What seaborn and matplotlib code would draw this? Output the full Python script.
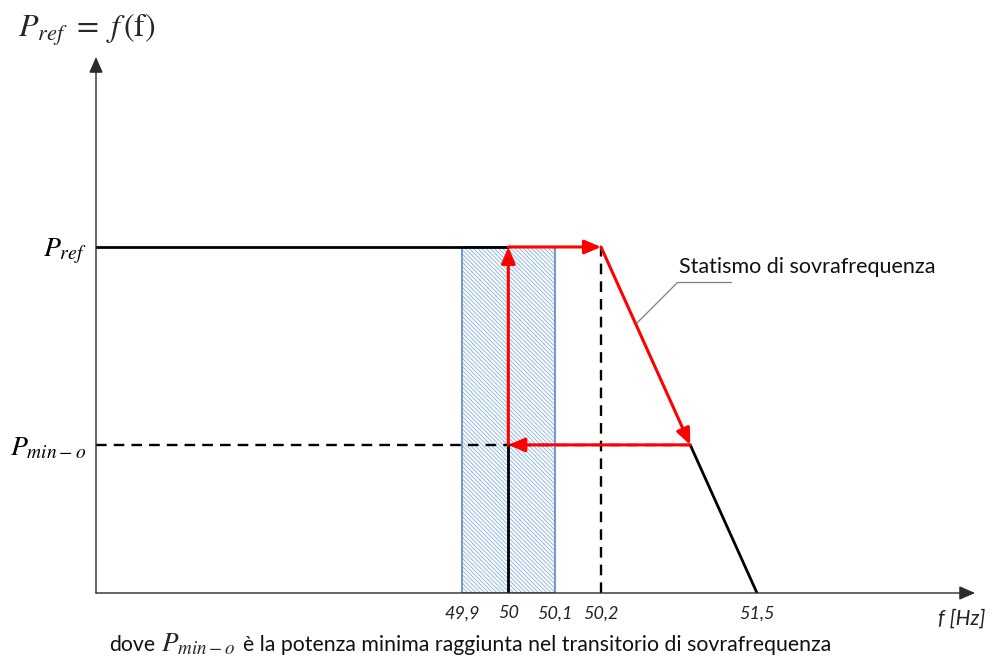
import numpy as np
import matplotlib
matplotlib.use("Agg")
import matplotlib.pyplot as plt
import seaborn as sns

# --- values of the over-frequency droop characteristic ---
P_REF = 1.0            # reference active power (per unit)
P_MIN = 0.428          # minimum power reached during the transient (per unit)
F_BAND_LOW = 49.9      # lower edge of the dead band [Hz]
F_NOM = 50.0           # nominal frequency [Hz]
F_BAND_HIGH = 50.1     # upper edge of the dead band [Hz]
F_DROOP_START = 50.2   # droop activation threshold [Hz]
F_DROOP_END = 51.5     # frequency at which power reaches zero [Hz]

tick_freqs = [49.9, 50.0, 50.1, 50.2, 51.5]
tick_labels = ["49,9", "50", "50,1", "50,2", "51,5"]

# frequency where the droop line reaches P_MIN
f_pmin = F_DROOP_START + (P_REF - P_MIN) / P_REF * (F_DROOP_END - F_DROOP_START)

# piecewise-linear (not to scale) frequency axis
FREQ_KNOTS = [49.0, 49.9, 50.2, 51.5, 53.3]
POS_KNOTS = [0.0, 366.0, 505.0, 661.0, 879.0]


def fwd(f):
    return np.interp(f, FREQ_KNOTS, POS_KNOTS)


def inv(p):
    return np.interp(p, POS_KNOTS, FREQ_KNOTS)


sns.set_theme(style="white")
plt.rcParams["font.family"] = ["Lato", "DejaVu Sans"]
plt.rcParams["mathtext.fontset"] = "stix"
plt.rcParams["hatch.linewidth"] = 0.8

W, H = 997, 659
fig = plt.figure(figsize=(W / 100, H / 100), dpi=100)
ax = fig.add_axes([96 / W, (H - 593) / H, 879 / W, (593 - 57) / H])
ax.set_xscale("function", functions=(fwd, inv))
ax.set_xlim(FREQ_KNOTS[0], FREQ_KNOTS[-1])
ax.set_ylim(0, 1.549)
for s in ax.spines.values():
    s.set_visible(False)

# dead band (hatched)
ax.fill_between([F_BAND_LOW, F_BAND_HIGH], 0, P_REF, facecolor="none",
                edgecolor="#9cc0e6", hatch="\\" * 8, linewidth=0, zorder=1)
ax.fill_between([F_BAND_LOW, F_BAND_HIGH], 0, P_REF, facecolor="none",
                edgecolor="#5f88bf", linewidth=1.2, zorder=1.5)

black = dict(color="black", lw=2.0, estimator=None, sort=False, ax=ax, zorder=3)
dash = dict(color="black", lw=1.7, estimator=None, sort=False, ax=ax, zorder=2,
            linestyle=(0, (4.5, 3)))

# characteristic in black
sns.lineplot(x=[FREQ_KNOTS[0], F_NOM], y=[P_REF, P_REF], **black)
sns.lineplot(x=[f_pmin, F_DROOP_END], y=[P_MIN, 0], **black)
sns.lineplot(x=[F_NOM, F_NOM], y=[0, P_MIN], **black)
sns.lineplot(x=[FREQ_KNOTS[0], f_pmin], y=[P_MIN, P_MIN], **dash)
sns.lineplot(x=[F_DROOP_START, F_DROOP_START], y=[0, P_REF], **dash)

# red path of the transient
path = [(F_NOM, P_MIN), (F_NOM, P_REF), (F_DROOP_START, P_REF),
        (f_pmin, P_MIN), (F_NOM, P_MIN)]
for start, end in zip(path[:-1], path[1:]):
    ax.annotate("", xy=end, xytext=start,
                arrowprops=dict(arrowstyle="-|>,head_length=0.7,head_width=0.3",
                                color="#ff0000", lw=2.2, shrinkA=0, shrinkB=0,
                                mutation_scale=14), zorder=4)

# callout for the droop line
t = 0.39
anchor = (F_DROOP_START + t * (f_pmin - F_DROOP_START), P_REF - t * (P_REF - P_MIN))
ax.annotate("", xy=anchor, xytext=(69, 30), textcoords="offset points",
            arrowprops=dict(arrowstyle="-", color="#7f7f7f", lw=0.9,
                            shrinkA=0, shrinkB=0,
                            connectionstyle="angle,angleA=0,angleB=45,rad=0"))
ax.annotate("Statismo di sovrafrequenza", xy=anchor, xytext=(31, 41),
            textcoords="offset points", ha="left", va="center",
            fontsize=15.5, color="#111111")

# axes with arrow heads
arrow_kw = dict(arrowstyle="-|>,head_length=0.8,head_width=0.35", color="#2a2a2a",
                lw=1.0, shrinkA=0, shrinkB=0, mutation_scale=12)
ax.annotate("", xy=(1, 0), xytext=(0, 0), xycoords="axes fraction",
            arrowprops=arrow_kw, annotation_clip=False)
ax.annotate("", xy=(0, 1), xytext=(0, 0), xycoords="axes fraction",
            arrowprops=arrow_kw, annotation_clip=False)

# ticks
ax.set_xticks(tick_freqs, tick_labels)
ax.set_yticks([P_MIN, P_REF], [r"$P_{min-o}$", r"$P_{ref}$"])
ax.tick_params(axis="x", length=0, pad=9, labelsize=13, colors="#222222")
ax.tick_params(axis="y", length=0, pad=7, labelsize=20, colors="black")
for lbl in ax.get_xticklabels():
    lbl.set_fontstyle("italic")
ax.minorticks_off()

fig.text(962 / W, 1 - 619 / H, "f [Hz]", ha="center", va="center",
         fontsize=15, fontstyle="italic", color="#222222")
fig.text(18 / W, 1 - 30 / H, r"$P_{ref}\ =\ f\,(\mathrm{f})$", ha="left",
         va="center", fontsize=23)

# caption below the axis
base_y = 1 - 651 / H
fig.text(155 / W, base_y, "dove", ha="right", va="baseline", fontsize=15.3,
         color="#111111")
fig.text(161 / W, base_y, r"$P_{min-o}$", ha="left", va="baseline", fontsize=19.5)
fig.text(243 / W, base_y,
         "è la potenza minima raggiunta nel transitorio di sovrafrequenza",
         ha="left", va="baseline", fontsize=15.3, color="#111111")

fig.savefig("out.png", dpi=100, facecolor="white")
